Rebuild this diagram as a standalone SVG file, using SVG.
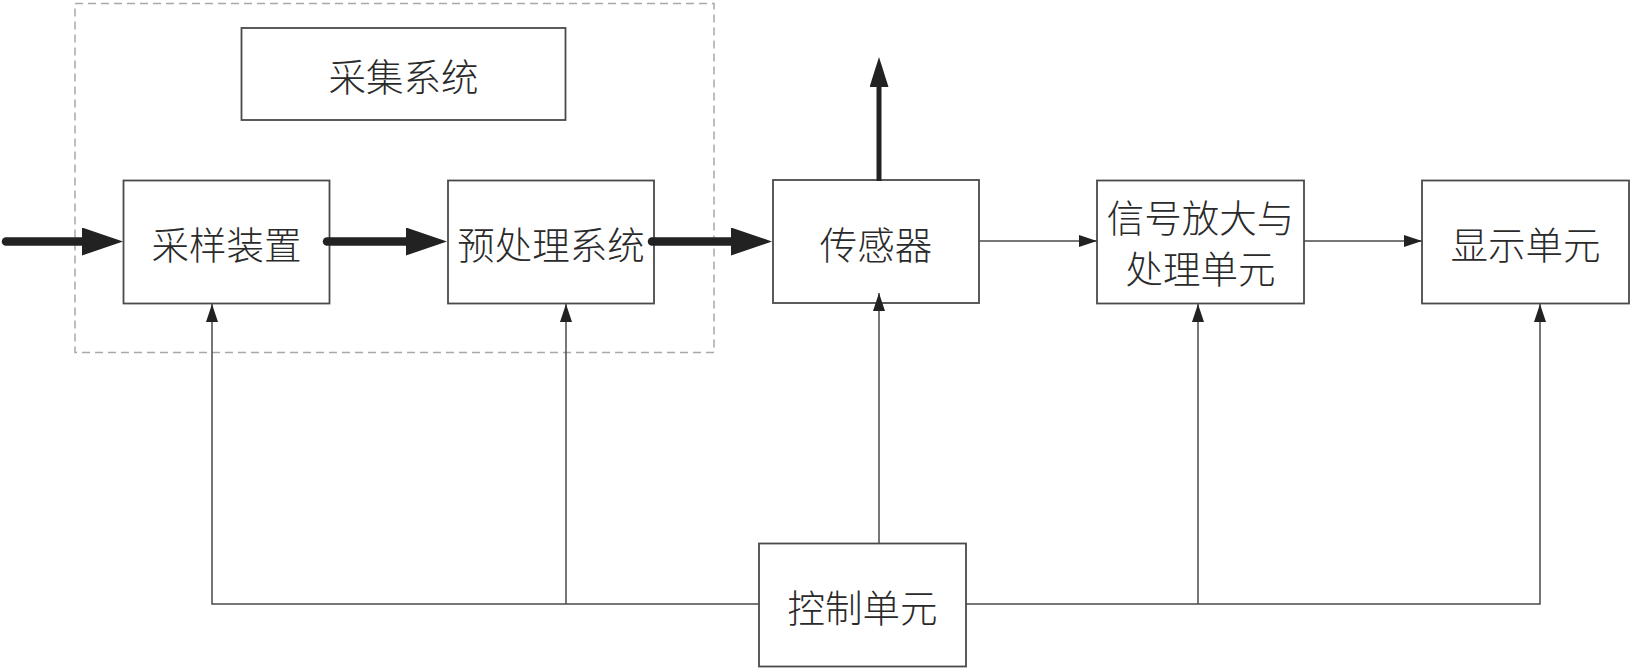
<svg xmlns="http://www.w3.org/2000/svg" width="1631" height="669" viewBox="0 0 1631 669">
<defs>
<style>
.box{fill:#fff;stroke:#4a4a4a;stroke-width:1.8}
.lbl{font-family:"Noto Sans CJK SC","Noto Sans CJK JP",sans-serif;font-size:37.5px;font-weight:300;fill:#2a2a2a;text-anchor:middle;dominant-baseline:central}
.thin{fill:none;stroke:#4a4a4a;stroke-width:1.5}
.thick{fill:none;stroke:#222;stroke-width:8.5;stroke-linecap:round}
.up{fill:none;stroke:#222;stroke-width:5}
.dash{fill:none;stroke:#a8a8a8;stroke-width:1.5;stroke-dasharray:8 5}
</style>
<marker id="ah" markerUnits="userSpaceOnUse" viewBox="0 0 18 12" refX="18" refY="6" markerWidth="18" markerHeight="12" orient="auto">
<path d="M0,0 L18,6 L0,12 z" fill="#222"/>
</marker>
<marker id="ahThick" markerUnits="userSpaceOnUse" viewBox="0 0 41 28" refX="2" refY="14" markerWidth="41" markerHeight="28" orient="auto">
<path d="M0,0 L41,14 L0,28 z" fill="#222"/>
</marker>
<marker id="ahUp" markerUnits="userSpaceOnUse" viewBox="0 0 30 19" refX="2" refY="9.5" markerWidth="30" markerHeight="19" orient="auto">
<path d="M0,0 L30,9.5 L0,19 z" fill="#222"/>
</marker>
</defs>
<rect width="1631" height="669" fill="#fff"/>
<g id="group-acquisition">
<rect class="dash" x="75" y="3.5" width="639" height="349"/>
</g>
<g id="node-caiji">
<rect class="box" x="241.5" y="28" width="324" height="92"/>
<text class="lbl" x="403.5" y="74">采集系统</text>
</g>
<g id="node-caiyang">
<rect class="box" x="123.5" y="180.5" width="206" height="123"/>
<text class="lbl" x="226.5" y="242">采样装置</text>
</g>
<g id="node-yuchuli">
<rect class="box" x="448" y="180.5" width="206" height="123"/>
<text class="lbl" x="551" y="242">预处理系统</text>
</g>
<g id="node-sensor">
<rect class="box" x="773" y="180" width="206" height="123"/>
<text class="lbl" x="876" y="242">传感器</text>
</g>
<g id="node-signal">
<rect class="box" x="1097" y="180.5" width="207" height="123"/>
<text class="lbl" x="1200.5" y="215">信号放大与</text>
<text class="lbl" x="1200.5" y="266">处理单元</text>
</g>
<g id="node-display">
<rect class="box" x="1422" y="180.5" width="207" height="123"/>
<text class="lbl" x="1525.5" y="242">显示单元</text>
</g>
<g id="node-control">
<rect class="box" x="759" y="543.5" width="207" height="123"/>
<text class="lbl" x="862.5" y="605">控制单元</text>
</g>
<g id="connectors">
<path class="thick" d="M6,241.5 H84" marker-end="url(#ahThick)"/>
<path class="thick" d="M327,241.5 H408" marker-end="url(#ahThick)"/>
<path class="thick" d="M652,241.5 H733" marker-end="url(#ahThick)"/>
<path class="up" d="M879,181 V85" marker-end="url(#ahUp)"/>
<path class="thin" d="M979,241 H1097" marker-end="url(#ah)"/>
<path class="thin" d="M1304,241 H1422" marker-end="url(#ah)"/>
<path class="thin" d="M759,604 H212 V304" marker-end="url(#ah)"/>
<path class="thin" d="M566,604 V304" marker-end="url(#ah)"/>
<path class="thin" d="M879,543.5 V293" marker-end="url(#ah)"/>
<path class="thin" d="M966,604 H1540 V304" marker-end="url(#ah)"/>
<path class="thin" d="M1198,604 V304" marker-end="url(#ah)"/>
</g>
</svg>
